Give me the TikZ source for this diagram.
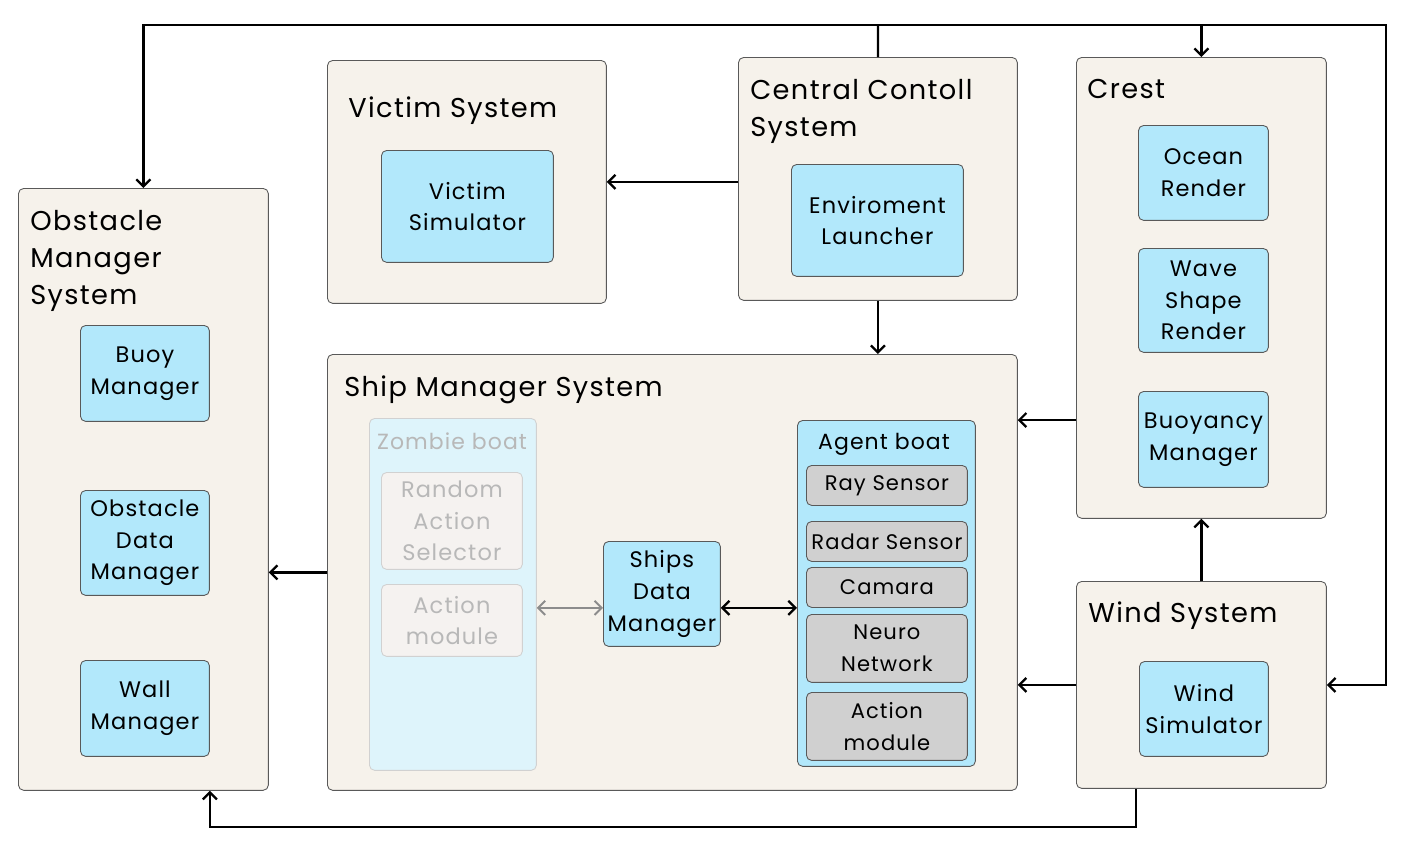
\documentclass[tikz,border=0pt]{standalone}
\usepackage{fontspec}
\setmainfont{Poppins}[LetterSpace=5]
\usetikzlibrary{arrows.meta}

\definecolor{cream}{RGB}{246,242,235}
\definecolor{skyblue}{RGB}{178,232,251}
\definecolor{paleblue}{RGB}{222,244,251}
\definecolor{ashgray}{RGB}{208,208,208}
\definecolor{palegray}{RGB}{245,242,240}

\tikzset{
	system/.style={draw=black!65, line width=0.5pt, fill=cream, rounded corners=3pt, anchor=north west, inner sep=0pt},
	module/.style={draw=black!65, line width=0.5pt, fill=skyblue, rounded corners=3pt, anchor=north west, align=center, inner sep=0pt, font=\fontsize{12.8}{18}\selectfont},
	part/.style={module, fill=ashgray, font=\fontsize{12}{18}\selectfont},
	faded/.style={module, draw=black!18, fill=palegray, text=black!28},
	heading/.style={anchor=base west, align=left, inner sep=0pt, font=\fontsize{15.5}{21}\selectfont},
	link/.style={line width=1.3pt, ->},
}

\begin{document}
\begin{tikzpicture}[x=0.02cm, y=-0.02cm, >={Straight Barb[length=4pt,width=8pt]}]
	\useasboundingbox (0,0) rectangle (1403,842);

	%% The big system boxes
	\node at (18,188) [system, minimum width=5cm, minimum height=12.04cm] (oms) {};		% Obstacle manager
	\node at (327,60) [system, minimum width=5.58cm, minimum height=4.86cm] (vs) {};	% Victim
	\node at (738,57) [system, minimum width=5.58cm, minimum height=4.86cm] (ccs) {};	% Central control
	\node at (1076,57) [system, minimum width=5cm, minimum height=9.22cm] (crest) {};	% Crest
	\node at (1076,581) [system, minimum width=5cm, minimum height=4.14cm] (wind) {};	% Wind
	\node at (327,354) [system, minimum width=13.8cm, minimum height=8.72cm] (sms) {};	% Ship manager

	%% Their titles (base is the last line)
	\node at (30,304) [heading] (omsT) {Obstacle\\Manager\\System};
	\node at (348,117) [heading] (vsT) {Victim System};
	\node at (750,136) [heading] (ccsT) {Central Contoll\\System};
	\node at (1087,98) [heading] (crestT) {Crest};
	\node at (1088,622) [heading] (windT) {Wind System};
	\node at (344,396) [heading] (smsT) {Ship Manager System};

	%% Modules inside the systems
	\node at (80,325) [module, minimum width=2.58cm, minimum height=1.92cm] (buoy) {Buoy\\Manager};
	\node at (80,490) [module, minimum width=2.58cm, minimum height=2.1cm] (odm) {Obstacle\\Data\\Manager};
	\node at (80,660) [module, minimum width=2.58cm, minimum height=1.92cm] (wall) {Wall\\Manager};
	\node at (381,150) [module, minimum width=3.44cm, minimum height=2.24cm] (vsim) {Victim\\Simulator};
	\node at (791,164) [module, minimum width=3.44cm, minimum height=2.24cm] (env) {Enviroment\\Launcher};
	\node at (1138,125) [module, minimum width=2.6cm, minimum height=1.9cm] (ocean) {Ocean\\Render};
	\node at (1138,248) [module, minimum width=2.6cm, minimum height=2.08cm] (wave) {Wave\\Shape\\Render};
	\node at (1138,391) [module, minimum width=2.6cm, minimum height=1.92cm] (buoyancy) {Buoyancy\\Manager};
	\node at (1139,661) [module, minimum width=2.58cm, minimum height=1.9cm] (wsim) {Wind\\Simulator};

	%% Inside the ship manager
	\node at (369,418) [faded, fill=paleblue, minimum width=3.34cm, minimum height=7.04cm] (zombie) {};
	\node at (452,449) [anchor=base, text=black!28, font=\fontsize{12.5}{18}\selectfont] (zombieT) {Zombie boat};
	\node at (381,472) [faded, minimum width=2.82cm, minimum height=1.94cm] (zras) {Random\\Action\\Selector};
	\node at (381,584) [faded, minimum width=2.82cm, minimum height=1.44cm] (zam) {Action\\module};
	\node at (603,541) [module, minimum width=2.34cm, minimum height=2.1cm] (sdm) {Ships\\Data\\Manager};
	\node at (797,420) [module, minimum width=3.56cm, minimum height=6.92cm] (agent) {};
	\node at (884,449) [anchor=base, font=\fontsize{12.5}{18}\selectfont] (agentT) {Agent boat};
	\node at (806,465) [part, minimum width=3.22cm, minimum height=0.8cm] (ray) {Ray Sensor};
	\node at (806,521) [part, minimum width=3.22cm, minimum height=0.8cm] (radar) {Radar Sensor};
	\node at (806,567) [part, minimum width=3.22cm, minimum height=0.8cm] (cam) {Camara};
	\node at (806,614) [part, minimum width=3.22cm, minimum height=1.36cm] (neuro) {Neuro\\Network};
	\node at (806,692) [part, minimum width=3.22cm, minimum height=1.36cm] (aam) {Action\\module};

	%% Bus lines round the outside
	\coordinate (busT) at (878,25);		% top bus
	\coordinate (busR) at (1386,25);	% top right corner
	\coordinate (busB) at (1136,827);	% bottom bus
	\draw [line width=1.3pt] (ccs.north) -- (busT);
	\draw [link] (busT) -| (oms.north);
	\draw [link] (busT) -| (crest.north);
	\draw [link] (busT) -- (busR) |- (wind.east);
	\draw [link] (wind.south -| busB) -- (busB) -| (wall.east |- oms.south);

	%% Connect the systems
	\draw [link] (ccs.west |- vs.east) -- (vs.east);
	\draw [link] (ccs.south) -- (ccs.south |- sms.north);
	\draw [link] (crest.west |- agent.north) -- (sms.east |- agent.north);
	\draw [link] (wind.north) -- (crest.south);
	\draw [link] (wind.west) -- (sms.east |- wind.west);
	\draw [link] (sms.west) -- (oms.east |- sms.west);

	%% Boats and the data manager
	\draw [line width=1.1pt, <->, black!45] (zombie.east |- cam.south) -- (sdm.west |- cam.south);
	\draw [line width=1.3pt, <->] (sdm.east |- cam.south) -- (agent.west |- cam.south);
\end{tikzpicture}
\end{document}
